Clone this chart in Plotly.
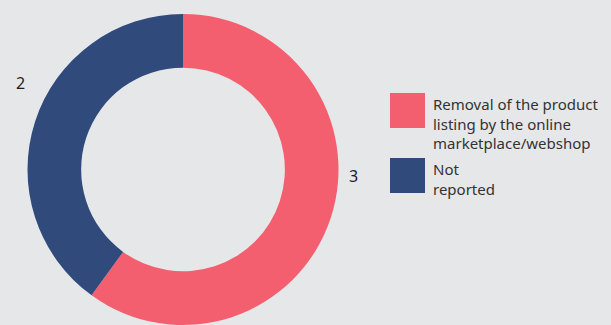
import plotly.graph_objects as go

# data
labels = ["Removal of the product listing by the online marketplace/webshop", "Not reported"]
legend_text = ["Removal of the product<br>listing by the online<br>marketplace/webshop", "Not<br>reported"]
values = [3, 2]
colors = ["#F45F6F", "#2F4A7B"]

W, H = 611, 325

fig = go.Figure(go.Pie(
    labels=labels,
    values=values,
    hole=0.655,
    sort=False,
    direction="clockwise",
    rotation=0,
    marker=dict(colors=colors, line=dict(width=0)),
    textinfo="none",
    automargin=False,
    domain=dict(x=[0, 366 / W], y=[0, 1]),
    showlegend=False,
    hoverinfo="label+value",
))

# value labels outside the ring (placed like the original)
label_pos = [(353, 176), (20, 83)]
for v, (lx, ly) in zip(values, label_pos):
    fig.add_annotation(xref="paper", yref="paper", x=lx / W, y=1 - (ly - 14) / 311,
                       xanchor="center", yanchor="middle", showarrow=False,
                       text=str(v), font=dict(size=16, color="#1E1E1E", family="Noto Sans"))

# legend drawn by hand so the swatches can be large
tops = [93, 158]
for txt, col, top in zip(legend_text, colors, tops):
    fig.add_shape(type="rect", xref="paper", yref="paper",
                  x0=390 / W, x1=425 / W,
                  y0=1 - (top + 35 - 14) / 311, y1=1 - (top - 14) / 311,
                  fillcolor=col, line=dict(width=0))
    fig.add_annotation(xref="paper", yref="paper", x=431 / W, y=1 - (top - 14 - 1) / 311,
                       xanchor="left", yanchor="top", align="left", showarrow=False,
                       text=txt, font=dict(size=15, color="#333333", family="Noto Sans"))

fig.update_layout(
    width=W, height=H,
    margin=dict(l=0, r=0, t=14, b=0, autoexpand=False),
    paper_bgcolor="#E6E7E9",
    plot_bgcolor="#E6E7E9",
)

fig.write_html("out.html", config={"displayModeBar": False},
               post_script="document.body.style.margin='0';")
